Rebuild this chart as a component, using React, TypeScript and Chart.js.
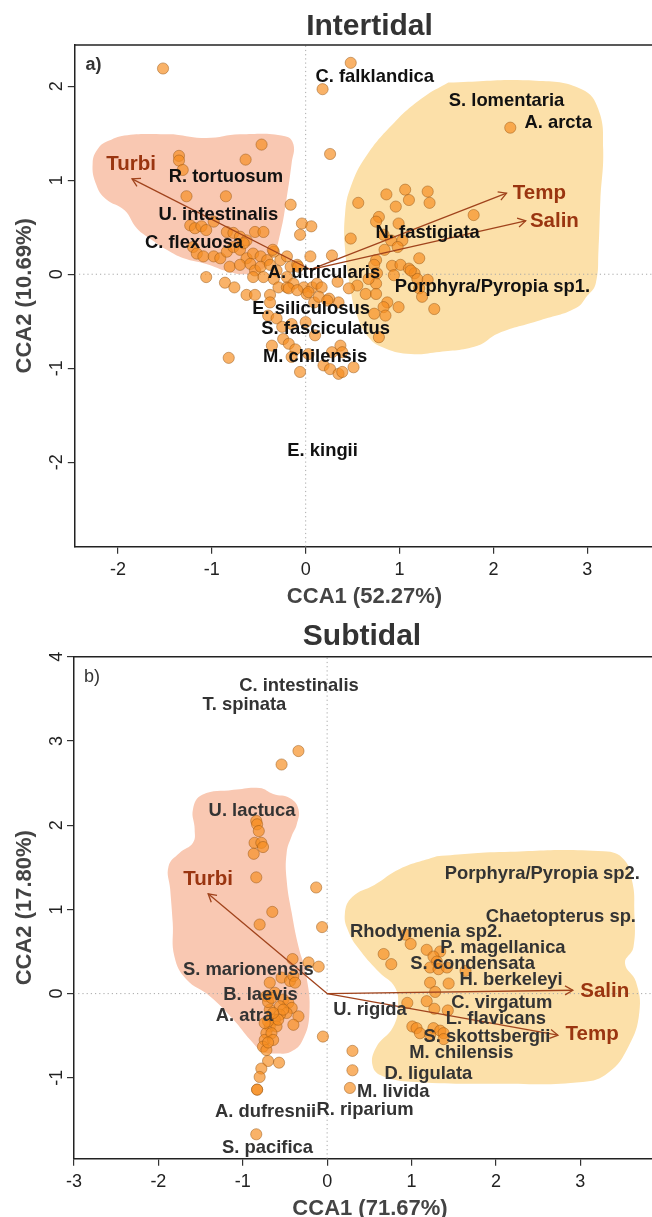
import React, { useEffect, useRef } from 'react';
import { Chart, registerables } from 'chart.js';

Chart.register(...registerables);

type Pt = [number, number];

// ---------- Intertidal ordination ----------
const INTER_X_TICKS = [-2, -1, 0, 1, 2, 3];
const INTER_Y_TICKS = [-2, -1, 0, 1, 2];
const INTER_X_RANGE: Pt = [-2.46, 3.69];
const INTER_Y_RANGE: Pt = [-2.9, 2.44];

const INTER_SITES: Pt[] = [
  [-1.52, 2.19], [0.48, 2.25], [0.18, 1.97], [0.26, 1.28], [2.18, 1.56], [1.79, 0.63],
  [-0.47, 1.38], [-1.35, 1.26], [-1.35, 1.21], [-0.64, 1.22], [-1.31, 1.11], [-1.27, 0.83],
  [-0.85, 0.83], [-0.16, 0.74], [-0.04, 0.54], [0.06, 0.51], [-0.06, 0.42],
  [-1.23, 0.52], [-1.18, 0.49], [-1.11, 0.51], [-1.06, 0.47], [-0.98, 0.56], [-0.84, 0.45],
  [-0.77, 0.44], [-0.7, 0.4], [-0.63, 0.36], [-0.54, 0.45], [-0.45, 0.45],
  [-1.2, 0.29], [-1.16, 0.22], [-1.09, 0.19], [-0.98, 0.19], [-0.91, 0.17], [-0.84, 0.24],
  [-0.77, 0.29], [-0.7, 0.26], [-0.66, 0.33], [-0.63, 0.17], [-0.56, 0.22], [-0.48, 0.19],
  [-0.41, 0.15], [-0.34, 0.24], [-0.27, 0.15], [-0.2, 0.19],
  [-0.81, 0.08], [-0.7, 0.1], [-0.59, 0.11], [-0.54, 0.04], [-0.48, 0.08], [-0.38, 0.1],
  [-0.31, 0.04], [-0.16, 0.08], [-0.09, 0.1], [0.05, 0.19],
  [-0.56, -0.03], [-0.45, -0.03], [-0.34, -0.05], [-0.2, -0.03], [-1.06, -0.03], [-0.86, -0.09],
  [-0.76, -0.14], [-0.63, -0.22], [-0.54, -0.22], [-0.38, -0.22], [-0.29, -0.14], [-0.2, -0.14],
  [-0.13, -0.1], [-0.02, -0.14], [0.07, -0.14], [0.12, -0.1], [0.01, -0.21], [0.09, -0.3],
  [0.56, 0.76], [0.86, 0.85], [1.06, 0.9], [1.3, 0.88], [0.96, 0.72], [1.1, 0.79], [1.32, 0.76],
  [0.78, 0.61], [0.75, 0.56], [0.99, 0.54], [0.83, 0.42], [0.91, 0.36], [1.03, 0.36], [0.98, 0.29],
  [0.84, 0.26], [0.48, 0.38], [0.28, 0.2],
  [0.75, 0.15], [0.73, 0.1], [0.92, 0.09], [1.01, 0.1], [1.1, 0.06], [1.21, 0.17], [1.16, 0.01],
  [1.19, -0.05], [1.3, -0.06], [1.21, -0.15], [1.24, -0.24], [0.94, -0.01], [0.75, -0.1],
  [0.55, -0.12], [0.64, -0.21], [0.75, -0.21], [0.87, -0.3], [0.83, -0.35], [0.99, -0.35],
  [1.37, -0.37], [0.85, -0.44], [0.73, -0.42],
  [0.17, -0.14], [0.03, -0.19], [0.14, -0.24], [0.34, -0.08], [0.35, -0.3], [0.25, -0.26],
  [-0.38, -0.3], [-0.18, -0.15], [-0.09, -0.17], [0.23, -0.28], [0.46, -0.15], [0.67, -0.05],
  [0.78, -0.67], [-0.4, -0.44], [-0.31, -0.47], [-0.25, -0.56], [-0.15, -0.53], [0.0, -0.51],
  [0.1, -0.65], [-0.24, -0.69], [-0.18, -0.74], [-0.11, -0.8], [-0.36, -0.76], [-0.15, -0.88],
  [0.03, -0.85], [0.28, -0.83], [0.37, -0.76], [0.39, -0.83], [-0.06, -1.04], [0.19, -0.97],
  [0.26, -1.01], [0.35, -1.06], [0.39, -1.04], [0.51, -0.99], [-0.82, -0.89],
  [-0.35, 0.26], [-0.08, 0.08], [0.76, 0.01], [1.12, 0.04],
];

const INTER_SPECIES = [
  'C. falklandica', 'S. lomentaria', 'A. arcta', 'R. tortuosum', 'U. intestinalis',
  'C. flexuosa', 'N. fastigiata', 'A. utricularis', 'Porphyra/Pyropia sp1.',
  'E. siliculosus', 'S. fasciculatus', 'M. chilensis', 'E. kingii',
];
const INTER_SPECIES_SCORES: Pt[] = [
  [0.735, 2.105], [2.14, 1.84], [2.69, 1.615], [-0.85, 1.04], [-0.93, 0.632],
  [-1.19, 0.33], [1.3, 0.437], [0.195, 0.01], [1.99, -0.13],
  [0.058, -0.373], [0.213, -0.583], [0.1, -0.878], [0.18, -1.883],
];

const INTER_VARS = ['Turbi', 'Temp', 'Salin'];
const INTER_VAR_ORIGIN: Pt = [0.05, 0.05];
const INTER_VAR_TIPS: Pt[] = [[-1.85, 1.015], [2.14, 0.863], [2.344, 0.568]];
const INTER_VAR_LABELS: Pt[] = [[-1.86, 1.165], [2.49, 0.863], [2.65, 0.56]];

const INTER_HULL_TURBID: Pt[] = [
  [-1.41, 1.49], [-1.06, 1.45], [-0.7, 1.49], [-0.22, 1.47], [-0.13, 1.38], [-0.15, 1.18],
  [-0.2, 0.83], [-0.27, 0.44], [-0.36, 0.17], [-0.5, 0.03], [-0.65, 0.0], [-0.83, 0.03],
  [-1.06, 0.11], [-1.3, 0.17], [-1.48, 0.26], [-1.63, 0.36], [-1.8, 0.49], [-1.93, 0.68],
  [-2.13, 0.8], [-2.23, 0.95], [-2.27, 1.18], [-2.21, 1.34], [-2.1, 1.42], [-1.9, 1.48],
];
const INTER_HULL_WARM: Pt[] = [
  [1.52, 2.04], [2.45, 2.06], [2.94, 1.97], [3.12, 1.75], [3.17, 1.33], [3.14, 0.79],
  [3.12, 0.26], [3.09, -0.1], [3.0, -0.23], [2.88, -0.36], [2.5, -0.49], [2.05, -0.63],
  [1.83, -0.76], [1.39, -0.83], [1.12, -0.85], [0.85, -0.79], [0.67, -0.67], [0.54, -0.42],
  [0.48, -0.17], [0.42, 0.26], [0.42, 0.65], [0.48, 0.93], [0.64, 1.25], [0.94, 1.61],
  [1.25, 1.88],
];

// ---------- Subtidal ordination ----------
const SUB_X_TICKS = [-3, -2, -1, 0, 1, 2, 3];
const SUB_Y_TICKS = [-1, 0, 1, 2, 3, 4];
const SUB_X_RANGE: Pt = [-3, 3.85];
const SUB_Y_RANGE: Pt = [-1.96, 4];

const SUB_SITES: Pt[] = [
  [-0.34, 2.88], [-0.54, 2.72], [-0.84, 2.05], [-0.83, 2.01], [-0.81, 1.93], [-0.86, 1.79],
  [-0.78, 1.79], [-0.76, 1.74], [-0.87, 1.66], [-0.84, 1.38], [-0.13, 1.26], [-0.65, 0.97],
  [-0.8, 0.82], [-0.06, 0.79], [-0.41, 0.41], [-0.22, 0.37], [-0.1, 0.32], [-0.68, 0.13],
  [-0.54, 0.19], [-0.44, 0.15], [-0.4, 0.21], [-0.38, 0.13],
  [-0.72, -0.03], [-0.62, 0.01], [-0.52, -0.07], [-0.46, -0.11], [-0.56, -0.15], [-0.42, -0.17],
  [-0.34, -0.27], [-0.4, -0.37], [-0.48, -0.23], [-0.56, -0.25], [-0.62, -0.31], [-0.68, -0.39],
  [-0.72, -0.47], [-0.74, -0.55], [-0.76, -0.63], [-0.72, -0.67], [-0.6, -0.39], [-0.66, -0.47],
  [-0.58, -0.31], [-0.68, -0.19], [-0.52, -0.19], [-0.64, -0.23], [-0.7, -0.33], [-0.7, -0.1],
  [-0.66, -0.05], [-0.74, -0.35], [-0.64, -0.55], [-0.7, -0.58],
  [-0.05, -0.51], [-0.7, -0.8], [-0.57, -0.82], [-0.78, -0.89], [-0.8, -0.99], [-0.83, -1.14],
  [-0.83, -1.14], [0.3, -0.68], [0.3, -0.91], [0.27, -1.12], [-0.84, -1.67],
  [0.93, 0.7], [0.99, 0.59], [1.18, 0.52], [0.67, 0.47], [0.76, 0.35], [1.34, 0.5], [1.26, 0.44],
  [1.3, 0.38], [1.22, 0.31], [1.32, 0.29], [1.42, 0.31], [1.64, 0.27], [1.22, 0.13], [1.44, 0.12],
  [1.28, 0.02], [1.18, -0.09], [0.95, -0.11], [1.27, -0.18], [1.43, -0.2], [1.01, -0.39],
  [1.06, -0.41], [1.1, -0.47], [1.26, -0.41], [1.34, -0.44], [1.38, -0.47], [1.22, -0.49],
  [1.38, -0.54],
];

const SUB_SPECIES = [
  'C. intestinalis', 'T. spinata', 'U. lactuca', 'Porphyra/Pyropia sp2.', 'Chaetopterus sp.',
  'Rhodymenia sp2.', 'P. magellanica', 'S. condensata', 'S. marionensis', 'H. berkeleyi',
  'B. laevis', 'C. virgatum', 'U. rigida', 'A. atra', 'L. flavicans', 'S. skottsbergii',
  'M. chilensis', 'D. ligulata', 'M. livida', 'A. dufresnii', 'R. riparium', 'S. pacifica',
];
const SUB_SPECIES_SCORES: Pt[] = [
  [-0.334, 3.653], [-0.98, 3.424], [-0.89, 2.17], [2.55, 1.42], [2.77, 0.916],
  [1.173, 0.73], [2.083, 0.545], [1.723, 0.355], [-0.934, 0.276], [2.18, 0.158],
  [-0.79, -0.01], [2.07, -0.11], [0.507, -0.198], [-0.98, -0.265], [2.0, -0.296], [1.894, -0.514],
  [1.59, -0.71], [1.2, -0.948], [0.783, -1.166], [-0.73, -1.41], [0.448, -1.375], [-0.706, -1.836],
];

const SUB_VARS = ['Turbi', 'Salin', 'Temp'];
const SUB_VAR_ORIGIN: Pt = [0, 0];
const SUB_VAR_TIPS: Pt[] = [[-1.41, 1.185], [2.912, 0.04], [2.735, -0.494]];
const SUB_VAR_LABELS: Pt[] = [[-1.41, 1.36], [3.29, 0.03], [3.14, -0.486]];

const SUB_HULL_TURBID: Pt[] = [
  [-1.11, 2.42], [-0.8, 2.44], [-0.64, 2.37], [-0.44, 2.32], [-0.34, 2.19], [-0.36, 2.01],
  [-0.42, 1.87], [-0.48, 1.67], [-0.48, 1.35], [-0.42, 0.96], [-0.34, 0.56], [-0.25, 0.23],
  [-0.21, -0.23], [-0.29, -0.55], [-0.43, -0.69], [-0.6, -0.71], [-0.76, -0.69], [-0.91, -0.55],
  [-1.11, -0.31], [-1.39, -0.03], [-1.67, 0.17], [-1.81, 0.44], [-1.83, 0.84], [-1.86, 1.24],
  [-1.88, 1.51], [-1.75, 1.67], [-1.59, 1.79], [-1.57, 1.95], [-1.59, 2.19], [-1.48, 2.36],
];
const SUB_HULL_WARM: Pt[] = [
  [1.3, 1.63], [2.04, 1.68], [3.28, 1.69], [3.52, 1.59], [3.62, 1.31], [3.64, 1.0],
  [3.63, 0.55], [3.53, 0.36], [3.66, 0.14], [3.7, -0.22], [3.57, -0.63], [3.33, -0.94],
  [3.03, -1.05], [2.04, -1.07], [1.06, -1.05], [0.66, -0.98], [0.54, -0.86], [0.58, -0.64],
  [0.78, -0.4], [0.84, -0.15], [0.8, 0.08], [0.62, 0.25], [0.4, 0.5], [0.26, 0.72],
  [0.21, 0.95], [0.3, 1.15], [0.56, 1.29], [0.86, 1.48],
];

// ---------- styling ----------
const FONT = '"Liberation Sans", Arial, Helvetica, sans-serif';
const TURBID_FILL = '#F9C8B2';
const WARM_FILL = '#FCE0A9';
const SITE_FILL = 'rgba(246,142,32,0.68)';
const SITE_EDGE = 'rgba(150,85,20,0.6)';
const ARROW = '#A0431C';
const VAR_TEXT = '#9A3510';

interface Frame {
  height: number; top: number; left: number; axisH: number;
  titleX: number; titleBase: number; letterX: number; letterY: number;
  xTitleX: number; xTitleBase: number; yTitleX: number; yTickX: number;
}

interface Panel {
  title: string; letter: string; letterBold: boolean;
  xTitle: string; yTitle: string;
  xTicks: number[]; yTicks: number[]; xRange: Pt; yRange: Pt;
  sites: Pt[]; species: string[]; speciesAt: Pt[]; speciesColor: string;
  vars: string[]; varOrigin: Pt; varTips: Pt[]; varLabels: Pt[];
  hulls: { pts: Pt[]; color: string }[];
  frame: Frame;
}

const PANELS: Panel[] = [
  {
    title: 'Intertidal', letter: 'a)', letterBold: true,
    xTitle: 'CCA1 (52.27%)', yTitle: 'CCA2 (10.69%)',
    xTicks: INTER_X_TICKS, yTicks: INTER_Y_TICKS, xRange: INTER_X_RANGE, yRange: INTER_Y_RANGE,
    sites: INTER_SITES, species: INTER_SPECIES, speciesAt: INTER_SPECIES_SCORES, speciesColor: '#111',
    vars: INTER_VARS, varOrigin: INTER_VAR_ORIGIN, varTips: INTER_VAR_TIPS, varLabels: INTER_VAR_LABELS,
    hulls: [{ pts: INTER_HULL_TURBID, color: TURBID_FILL }, { pts: INTER_HULL_WARM, color: WARM_FILL }],
    frame: {
      height: 610, top: 45, left: 74.8, axisH: 610 - 546.7,
      titleX: 369.5, titleBase: 35, letterX: 93.5, letterY: 65,
      xTitleX: 364.5, xTitleBase: 602.5, yTitleX: 31, yTickX: 62,
    },
  },
  {
    title: 'Subtidal', letter: 'b)', letterBold: false,
    xTitle: 'CCA1 (71.67%)', yTitle: 'CCA2 (17.80%)',
    xTicks: SUB_X_TICKS, yTicks: SUB_Y_TICKS, xRange: SUB_X_RANGE, yRange: SUB_Y_RANGE,
    sites: SUB_SITES, species: SUB_SPECIES, speciesAt: SUB_SPECIES_SCORES, speciesColor: '#333',
    vars: SUB_VARS, varOrigin: SUB_VAR_ORIGIN, varTips: SUB_VAR_TIPS, varLabels: SUB_VAR_LABELS,
    hulls: [{ pts: SUB_HULL_TURBID, color: TURBID_FILL }, { pts: SUB_HULL_WARM, color: WARM_FILL }],
    frame: {
      height: 607, top: 46.7, left: 74, axisH: 607 - 548.7,
      titleX: 362, titleBase: 35, letterX: 92, letterY: 66.7,
      xTitleX: 370, xTitleBase: 605, yTitleX: 31, yTickX: 62,
    },
  },
];

const xy = (pts: Pt[]) => pts.map(([x, y]) => ({ x, y }));

function buildChart(canvas: HTMLCanvasElement, p: Panel) {
  const f = p.frame;
  const [ox, oy] = p.varOrigin;

  const datasets: any[] = [];
  p.hulls.forEach((h) => {
    datasets.push({
      type: 'line', data: xy([...h.pts, h.pts[0]]), hullColor: h.color,
      borderWidth: 0, borderColor: 'transparent', pointRadius: 0, tension: 0.45, fill: false, order: 6,
    });
  });
  datasets.push({
    type: 'line', data: [{ x: p.xRange[0], y: 0 }, { x: p.xRange[1], y: 0 }],
    borderColor: '#a8a8a8', borderWidth: 1, borderDash: [1.2, 3], pointRadius: 0, order: 5,
  });
  datasets.push({
    type: 'line', data: [{ x: 0, y: p.yRange[0] }, { x: 0, y: p.yRange[1] }],
    borderColor: '#a8a8a8', borderWidth: 1, borderDash: [1.2, 3], pointRadius: 0, order: 5,
  });
  datasets.push({
    type: 'scatter', data: xy(p.sites), pointRadius: 5.6, pointBackgroundColor: SITE_FILL,
    pointBorderColor: SITE_EDGE, pointBorderWidth: 0.8, order: 4,
  });
  p.varTips.forEach((t) => {
    datasets.push({
      type: 'line', data: [{ x: ox, y: oy }, { x: t[0], y: t[1] }],
      borderColor: ARROW, borderWidth: 1.3, pointRadius: 0, order: 2,
    });
  });

  const decorations = {
    id: 'ordinationDecor',
    afterDatasetDraw(chart: any, args: any) {
      const ds = chart.data.datasets[args.index];
      if (!ds.hullColor) return;
      const { ctx, chartArea: a } = chart;
      const line = args.meta.dataset;
      line.updateControlPoints(a, 'x');
      ctx.save();
      ctx.beginPath();
      ctx.rect(a.left, a.top, a.right - a.left, a.bottom - a.top);
      ctx.clip();
      ctx.fillStyle = ds.hullColor;
      ctx.beginPath();
      line.path(ctx);
      ctx.closePath();
      ctx.fill();
      ctx.restore();
    },
    afterDatasetsDraw(chart: any) {
      const { ctx } = chart;
      const sx = chart.scales.x;
      const sy = chart.scales.y;
      // arrow heads
      ctx.save();
      ctx.strokeStyle = ARROW;
      ctx.lineWidth = 1.3;
      const x0 = sx.getPixelForValue(ox);
      const y0 = sy.getPixelForValue(oy);
      p.varTips.forEach(([tx, ty]) => {
        const x1 = sx.getPixelForValue(tx);
        const y1 = sy.getPixelForValue(ty);
        const ang = Math.atan2(y1 - y0, x1 - x0);
        const len = 9;
        const spread = Math.PI / 6;
        ctx.beginPath();
        ctx.moveTo(x1 - len * Math.cos(ang - spread), y1 - len * Math.sin(ang - spread));
        ctx.lineTo(x1, y1);
        ctx.lineTo(x1 - len * Math.cos(ang + spread), y1 - len * Math.sin(ang + spread));
        ctx.stroke();
      });
      ctx.restore();

      // species names
      ctx.save();
      ctx.textAlign = 'center';
      ctx.textBaseline = 'middle';
      ctx.font = `bold 18.4px ${FONT}`;
      ctx.fillStyle = p.speciesColor;
      p.species.forEach((name, i) => {
        const [vx, vy] = p.speciesAt[i];
        ctx.fillText(name, sx.getPixelForValue(vx), sy.getPixelForValue(vy));
      });
      // environmental variable names
      ctx.font = `bold 20.5px ${FONT}`;
      ctx.fillStyle = VAR_TEXT;
      p.vars.forEach((name, i) => {
        const [vx, vy] = p.varLabels[i];
        ctx.fillText(name, sx.getPixelForValue(vx), sy.getPixelForValue(vy));
      });
      ctx.restore();
    },
    afterDraw(chart: any) {
      const { ctx, chartArea: a } = chart;
      const sy = chart.scales.y;
      ctx.save();
      // top frame line
      ctx.strokeStyle = '#222';
      ctx.lineWidth = 1.5;
      ctx.beginPath();
      ctx.moveTo(a.left, a.top);
      ctx.lineTo(a.right, a.top);
      ctx.stroke();

      // panel title
      ctx.fillStyle = '#333';
      ctx.textAlign = 'center';
      ctx.textBaseline = 'alphabetic';
      ctx.font = `bold 30px ${FONT}`;
      ctx.fillText(p.title, f.titleX, f.titleBase);

      // panel letter
      ctx.font = `${p.letterBold ? 'bold ' : ''}18px ${FONT}`;
      ctx.fillStyle = '#333';
      ctx.textBaseline = 'middle';
      ctx.fillText(p.letter, f.letterX, f.letterY);

      // x axis title
      ctx.font = `bold 22px ${FONT}`;
      ctx.fillStyle = '#444';
      ctx.textBaseline = 'alphabetic';
      ctx.fillText(p.xTitle, f.xTitleX, f.xTitleBase);

      // y axis title (rotated)
      ctx.save();
      ctx.translate(f.yTitleX, (a.top + a.bottom) / 2);
      ctx.rotate(-Math.PI / 2);
      ctx.fillText(p.yTitle, 0, 0);
      ctx.restore();

      // y tick labels, parallel to the axis
      ctx.font = `18px ${FONT}`;
      ctx.fillStyle = '#222';
      p.yTicks.forEach((v) => {
        ctx.save();
        ctx.translate(f.yTickX, sy.getPixelForValue(v));
        ctx.rotate(-Math.PI / 2);
        ctx.fillText(String(v), 0, 0);
        ctx.restore();
      });
      ctx.restore();
    },
  };

  return new Chart(canvas, {
    type: 'scatter',
    data: { datasets },
    options: {
      responsive: false,
      animation: false,
      devicePixelRatio: 1,
      events: [],
      layout: { autoPadding: false, padding: { top: f.top, left: 0, right: 0, bottom: 0 } },
      plugins: { legend: { display: false }, tooltip: { enabled: false }, title: { display: false } },
      scales: {
        x: {
          type: 'linear', min: p.xRange[0], max: p.xRange[1],
          afterBuildTicks: (s: any) => { s.ticks = p.xTicks.map((v) => ({ value: v })); },
          afterFit: (s: any) => {
            s.height = f.axisH;
            s.paddingLeft = 0;
            s.paddingRight = 0;
          },
          ticks: {
            autoSkip: false, maxRotation: 0, padding: 6, color: '#222',
            font: { family: FONT, size: 18 },
            callback: (v: any) => String(v),
          },
          grid: { display: true, drawOnChartArea: false, drawTicks: true, tickLength: 7, color: '#333', lineWidth: 1.2 },
          border: { display: true, color: '#222', width: 1.5 },
        },
        y: {
          type: 'linear', min: p.yRange[0], max: p.yRange[1],
          afterBuildTicks: (s: any) => { s.ticks = p.yTicks.map((v) => ({ value: v })); },
          afterFit: (s: any) => {
            s.width = f.left;
            s.paddingTop = 0;
            s.paddingBottom = 0;
          },
          ticks: { display: false },
          grid: { display: true, drawOnChartArea: false, drawTicks: true, tickLength: 7, color: '#333', lineWidth: 1.2 },
          border: { display: true, color: '#222', width: 1.5 },
        },
      },
    },
    plugins: [decorations],
  } as any);
}

export default function App() {
  const topRef = useRef<HTMLCanvasElement | null>(null);
  const bottomRef = useRef<HTMLCanvasElement | null>(null);

  useEffect(() => {
    const charts: Chart[] = [];
    if (topRef.current) charts.push(buildChart(topRef.current, PANELS[0]));
    if (bottomRef.current) charts.push(buildChart(bottomRef.current, PANELS[1]));
    return () => charts.forEach((c) => c.destroy());
  }, []);

  return (
    <div style={{ position: 'absolute', left: 0, top: 0, width: 652, height: 1217, background: '#fff', overflow: 'hidden' }}>
      <canvas ref={topRef} width={652} height={PANELS[0].frame.height}
        style={{ display: 'block', width: 652, height: PANELS[0].frame.height }} />
      <canvas ref={bottomRef} width={652} height={PANELS[1].frame.height}
        style={{ display: 'block', width: 652, height: PANELS[1].frame.height }} />
    </div>
  );
}
